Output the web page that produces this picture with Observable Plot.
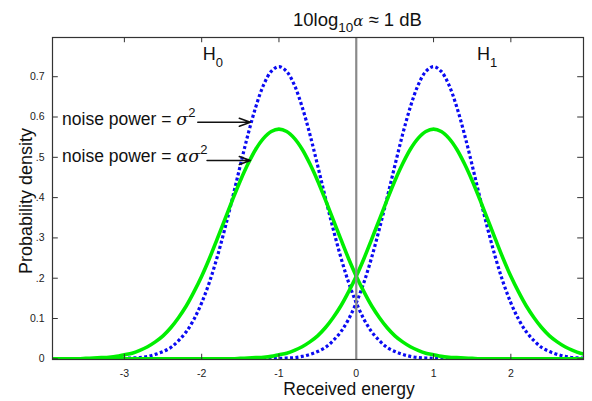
<!DOCTYPE html>
<html>
<head>
<meta charset="utf-8">
<script src="https://cdn.jsdelivr.net/npm/d3@7"></script>
<script src="https://cdn.jsdelivr.net/npm/@observablehq/plot@0.6"></script>
<style>
  html, body { margin: 0; padding: 0; background: #fff; }
  svg { display: block; }
</style>
</head>
<body>
<div id="chart"></div>
<script>
// Sample grid along "Received energy" (-4.0 … 3.0, step 0.1)
const xs = d3.range(71).map(i => Math.round((-4 + i * 0.1) * 10) / 10);

// Probability density (dotted blue: noise power = σ², green: noise power = ασ²)
const blueH0 = [0,0,0,0,0,0,0,0,0,0,
  0.001,0.002,0.003,0.006,0.011,0.018,0.028,0.045,0.067,0.098,
  0.139,0.190,0.252,0.323,0.400,0.480,0.557,0.625,0.679,0.713,
  0.725,
  0.713,0.679,0.625,0.557,0.480,0.400,0.323,0.252,0.190,0.139,
  0.098,0.067,0.045,0.028,0.018,0.011,0.006,0.003,0.002,0.001,
  0,0,0,0,0,0,0,0,0,0,0,0,0,0,0,0,0,0,0,0];
const blueH1 = [0,0,0,0,0,0,0,0,0,0,0,0,0,0,0,0,0,0,0,0,0,0,0,0,0,0,0,0,0,0,
  0.001,0.002,0.003,0.006,0.011,0.018,0.028,0.045,0.067,0.098,
  0.139,0.190,0.252,0.323,0.400,0.480,0.557,0.625,0.679,0.713,
  0.725,
  0.713,0.679,0.625,0.557,0.480,0.400,0.323,0.252,0.190,0.139,
  0.098,0.067,0.045,0.028,0.018,0.011,0.006,0.003,0.002,0.001];
const greenH0 = [0,0,0,0,0,
  0.001,0.002,0.003,0.004,0.006,0.010,0.014,0.021,0.030,0.042,0.057,0.077,0.102,0.131,0.166,
  0.205,0.249,0.297,0.346,0.395,0.442,0.484,0.520,0.547,0.564,
  0.570,
  0.564,0.547,0.520,0.484,0.442,0.395,0.346,0.297,0.249,0.205,
  0.166,0.131,0.102,0.077,0.057,0.042,0.030,0.021,0.014,0.010,0.006,0.004,0.003,0.002,0.001,
  0,0,0,0,0,0,0,0,0,0,0,0,0,0,0];
const greenH1 = [0,0,0,0,0,0,0,0,0,0,0,0,0,0,0,0,0,0,0,0,0,0,0,0,0,
  0.001,0.002,0.003,0.004,0.006,0.010,0.014,0.021,0.030,0.042,0.057,0.077,0.102,0.131,0.166,
  0.205,0.249,0.297,0.346,0.395,0.442,0.484,0.520,0.547,0.564,
  0.570,
  0.564,0.547,0.520,0.484,0.442,0.395,0.346,0.297,0.249,0.205,
  0.166,0.131,0.102,0.077,0.057,0.042,0.030,0.021,0.014,0.010];

const xTicks = [-3, -2, -1, 0, 1, 2];
const xTickLabels = ["-3", "-2", "-1", "0", "1", "2"];
const yTicks = [0, 0.1, 0.2, 0.3, 0.4, 0.5, 0.6, 0.7];
const yTickLabels = ["0", "0.1", ".2", ".3", ".4", ".5", "0.6", "0.7"];

const titleText = "10log";
const xLabel = "Received energy";
const yLabel = "Probability density";

const X0 = -3.93, X1 = 2.94, Y0 = -0.0017, Y1 = 0.7973;

const rows = (ys) => xs.map((x, i) => ({x, y: ys[i]}));
const blue = "#0a0af2", green = "#00ee00";

const plot = Plot.plot({
  width: 592, height: 401,
  marginLeft: 52, marginRight: 9, marginTop: 37, marginBottom: 42,
  x: {domain: [X0, X1], axis: null},
  y: {domain: [Y0, Y1], axis: null},
  style: {fontFamily: "Liberation Sans, Arial, sans-serif", background: "#fff"},
  marks: [
    Plot.line(rows(blueH0), {x: "x", y: "y", stroke: blue, strokeWidth: 3.2, strokeDasharray: "3,2.4", strokeLinecap: "butt", curve: "catmull-rom", clip: true}),
    Plot.line(rows(blueH1), {x: "x", y: "y", stroke: blue, strokeWidth: 3.2, strokeDasharray: "3,2.4", strokeLinecap: "butt", curve: "catmull-rom", clip: true}),
    Plot.line(rows(greenH0), {x: "x", y: "y", stroke: green, strokeWidth: 3.6, curve: "catmull-rom", clip: true}),
    Plot.line(rows(greenH1), {x: "x", y: "y", stroke: green, strokeWidth: 3.6, curve: "catmull-rom", clip: true}),
    Plot.ruleX([0], {y1: Y0, y2: Y1, stroke: "#8a8a8a", strokeWidth: 2.2}),
    // inward ticks
    Plot.ruleX(xTicks.filter(d => d !== 0), {x: d => d, y1: Y0, y2: Y0 + 0.013, stroke: "#333"}),
    Plot.ruleX(xTicks.filter(d => d !== 0), {x: d => d, y1: Y1, y2: Y1 - 0.013, stroke: "#333"}),
    Plot.ruleY(yTicks, {y: d => d, x1: X0, x2: X0 + 0.075, stroke: "#333"}),
    Plot.ruleY(yTicks, {y: d => d, x1: X1, x2: X1 - 0.075, stroke: "#333"}),
    Plot.frame({stroke: "#333", strokeWidth: 1.2}),
    // tick labels
    Plot.text(xTicks, {x: d => d, y: Y0, dy: 14, text: (d, i) => xTickLabels[i], fontSize: 10.5, fill: "#222"}),
    Plot.text(yTicks, {x: X0, y: d => d, dx: -8, text: (d, i) => yTickLabels[i], textAnchor: "end", fontSize: 10.5, fill: "#222"}),
    // arrows
    Plot.arrow([{x1: -2.05, y1: 0.587, x2: -1.37, y2: 0.587}, {x1: -1.93, y1: 0.492, x2: -1.37, y2: 0.492}],
      {x1: "x1", y1: "y1", x2: "x2", y2: "y2", stroke: "#111", strokeWidth: 1.6, headLength: 11, headAngle: 40})
  ]
});

document.getElementById("chart").appendChild(plot);

const svg = d3.select(plot);
const sx = plot.scale("x"), sy = plot.scale("y");
const font = "Liberation Sans, Arial, sans-serif";
const greek = "DejaVu Serif, Liberation Serif, serif";

function rich(x, y, parts, size, anchor) {
  const t = svg.append("text").attr("x", x).attr("y", y)
    .attr("font-family", font).attr("font-size", size).attr("fill", "#111")
    .attr("text-anchor", anchor || "start");
  parts.forEach(p => {
    const s = t.append("tspan").text(p.t);
    if (p.dy) s.attr("dy", p.dy);
    if (p.size) s.attr("font-size", p.size);
    if (p.greek) s.attr("font-family", greek).attr("font-style", "italic");
  });
  return t;
}

// title
rich(293, 26, [
  {t: titleText},
  {t: "10", dy: 6, size: 13.5},
  {t: "α", dy: -6, greek: true, size: 15},
  {t: " ≈ 1 dB"}
], 18.5);

// hypothesis labels
rich(sx.apply(-1.98), sy.apply(0.74), [{t: "H"}, {t: "0", dy: 7, size: 13}], 18);
rich(sx.apply(1.57), sy.apply(0.74), [{t: "H"}, {t: "1", dy: 7, size: 13}], 18);

// annotations
rich(sx.apply(-3.8), sy.apply(0.58), [
  {t: "noise power = "}, {t: "σ", greek: true}, {t: "2", dy: -8, size: 13}
], 17.5);
rich(sx.apply(-3.8), sy.apply(0.486), [
  {t: "noise power = "}, {t: "ασ", greek: true}, {t: "2", dy: -8, size: 13}
], 17.5);

// axis labels
svg.append("text").attr("x", 349).attr("y", 395).attr("text-anchor", "middle")
  .attr("font-family", font).attr("font-size", 17.5).attr("fill", "#111").text(xLabel);
svg.append("text").attr("transform", "translate(32,201) rotate(-90)").attr("text-anchor", "middle")
  .attr("font-family", font).attr("font-size", 18).attr("fill", "#111").text(yLabel);
</script>
</body>
</html>
